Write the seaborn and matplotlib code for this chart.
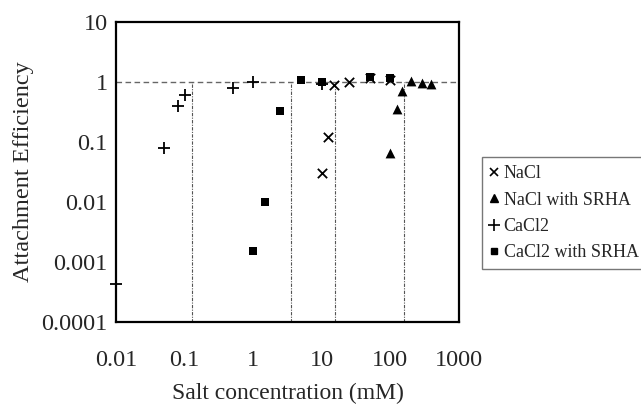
import matplotlib
matplotlib.use("Agg")
import matplotlib.pyplot as plt
import seaborn as sns
import pandas as pd
from matplotlib.lines import Line2D

# Attachment efficiency vs. salt concentration (log-log)
nacl_x = [10, 12.5, 15, 25, 50, 100]
nacl_y = [0.03, 0.12, 0.9, 1.0, 1.17, 1.08]

nacl_srha_x = [100, 125, 150, 200, 290, 390]
nacl_srha_y = [0.065, 0.35, 0.7, 1.05, 0.95, 0.93]

cacl2_x = [0.01, 0.05, 0.08, 0.1, 0.5, 1, 10]
cacl2_y = [0.00043, 0.08, 0.4, 0.6, 0.8, 1.0, 0.93]

cacl2_srha_x = [1, 1.5, 2.5, 5, 10, 50, 100]
cacl2_srha_y = [0.0015, 0.01, 0.33, 1.1, 1.0, 1.2, 1.15]

# critical coagulation concentrations (vertical guides)
ccc_x = [0.13, 3.6, 15.5, 158]

series_names = ["NaCl", "NaCl with SRHA", "CaCl2", "CaCl2 with SRHA"]
x_ticks = [0.01, 0.1, 1, 10, 100, 1000]
x_tick_labels = ["0.01", "0.1", "1", "10", "100", "1000"]
y_ticks = [0.0001, 0.001, 0.01, 0.1, 1, 10]
y_tick_labels = ["0.0001", "0.001", "0.01", "0.1", "1", "10"]

sns.set_style("white")
plt.rcParams["font.family"] = ["Liberation Serif", "DejaVu Serif"]

fig = plt.figure(figsize=(6.41, 4.05), dpi=100)
ax = fig.add_axes([116 / 641, 1 - 322 / 405, (459 - 116) / 641, 300 / 405])

ax.set_xscale("log")
ax.set_yscale("log")
ax.set_xlim(0.01, 1000)
ax.set_ylim(0.0001, 10)

# reference line at efficiency = 1 and CCC guides
ax.axhline(1, color="#666666", lw=1.0, ls=(0, (4, 2.5)), zorder=1)
ax.vlines(ccc_x, 0.0001, 1, colors="#555555", lw=0.8,
          linestyles=[(0, (3, 1.2, 1, 1.2))], zorder=1)

frames = {
    "NaCl": pd.DataFrame({"x": nacl_x, "y": nacl_y}),
    "NaCl with SRHA": pd.DataFrame({"x": nacl_srha_x, "y": nacl_srha_y}),
    "CaCl2": pd.DataFrame({"x": cacl2_x, "y": cacl2_y}),
    "CaCl2 with SRHA": pd.DataFrame({"x": cacl2_srha_x, "y": cacl2_srha_y}),
}
styles = {
    "NaCl": dict(marker="x", s=45, linewidth=1.3),
    "NaCl with SRHA": dict(marker="^", s=50, linewidth=0),
    "CaCl2": dict(marker="+", s=70, linewidth=1.3),
    "CaCl2 with SRHA": dict(marker="s", s=30, linewidth=0),
}
for name in series_names:
    sns.scatterplot(data=frames[name], x="x", y="y", color="black", ax=ax,
                    legend=False, clip_on=False, zorder=3, **styles[name])

ax.set_xticks(x_ticks)
ax.set_xticklabels(x_tick_labels)
ax.set_yticks(y_ticks)
ax.set_yticklabels(y_tick_labels)
ax.minorticks_off()
ax.tick_params(axis="x", which="major", direction="in", length=5, width=0.8,
               color="#999999", labelsize=17.5, pad=20)
ax.tick_params(axis="y", which="major", direction="in", length=6, width=0.8,
               color="#999999", labelsize=17.5, pad=6)

for sp in ax.spines.values():
    sp.set_linewidth(1.6)
    sp.set_color("black")

ax.set_xlabel("Salt concentration (mM)", fontsize=17, labelpad=9)
ax.set_ylabel("Attachment Efficiency", fontsize=17.5, labelpad=5)

handles = [
    Line2D([], [], ls="", marker="x", color="black", markersize=6, mew=1.2),
    Line2D([], [], ls="", marker="^", color="black", markersize=6),
    Line2D([], [], ls="", marker="+", color="black", markersize=8, mew=1.2),
    Line2D([], [], ls="", marker="s", color="black", markersize=5),
]
leg = fig.legend(handles, series_names, loc="upper left",
                 bbox_to_anchor=(482 / 641, 1 - 157 / 405),
                 fontsize=13, frameon=True, fancybox=False,
                 handlelength=0.45, handletextpad=0.3, labelspacing=0.52,
                 borderpad=0.45, borderaxespad=0)
leg.get_frame().set_edgecolor("#555555")
leg.get_frame().set_linewidth(1.0)

fig.savefig("out.png", dpi=100)
